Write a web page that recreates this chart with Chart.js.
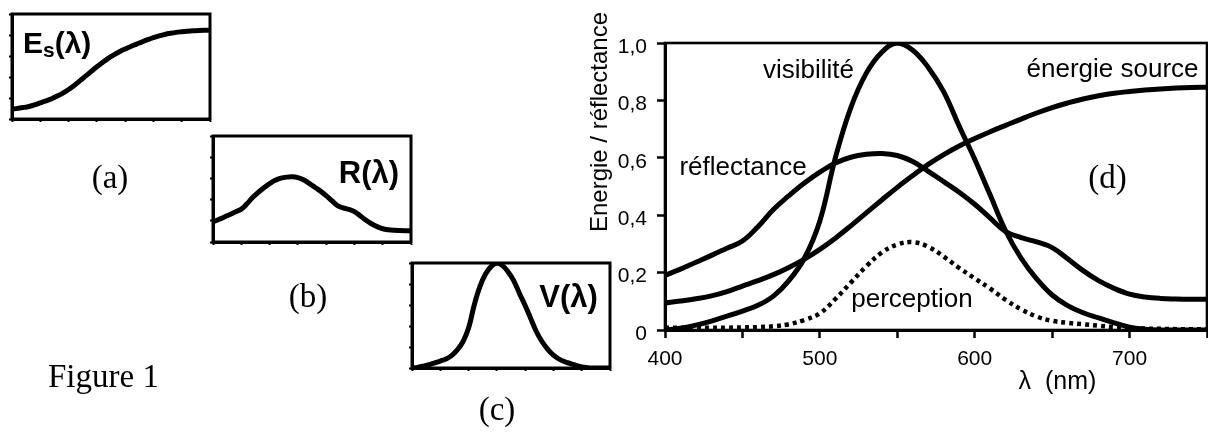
<!DOCTYPE html>
<html><head><meta charset="utf-8">
<script src="https://cdn.jsdelivr.net/npm/chart.js@4.4.1/dist/chart.umd.min.js"></script>
<style>
html,body{margin:0;padding:0;background:#fff;overflow:hidden}
#wrap{position:relative;width:1208px;height:432px}
canvas{position:absolute}
</style></head><body>
<div id="wrap">
<canvas id="main" width="1208" height="432" style="left:0;top:0"></canvas>
<canvas id="ca" width="220" height="130" style="left:0px;top:0px"></canvas>
<canvas id="cb" width="220" height="131" style="left:201px;top:122px"></canvas>
<canvas id="cc" width="220" height="130" style="left:400px;top:249px"></canvas>
</div>
<script>
// ---- data ----
const lambda = [400,410,420,430,440,450,460,470,480,490,500,510,520,530,540,550,560,570,580,590,600,610,620,630,640,650,660,670,680,690,700,710,720,730,740,750];
const energieSource = [0.094,0.101,0.109,0.119,0.134,0.153,0.172,0.193,0.218,0.247,0.281,0.32,0.363,0.408,0.453,0.497,0.538,0.577,0.611,0.641,0.667,0.691,0.713,0.735,0.756,0.775,0.791,0.805,0.816,0.825,0.831,0.836,0.84,0.843,0.845,0.846];
const reflectance = [0.19,0.212,0.236,0.26,0.285,0.31,0.36,0.42,0.468,0.512,0.55,0.582,0.602,0.612,0.615,0.608,0.587,0.553,0.517,0.48,0.438,0.39,0.343,0.322,0.307,0.287,0.248,0.207,0.172,0.145,0.125,0.115,0.11,0.108,0.107,0.107];
const visibilite = [0.0,0.006,0.017,0.031,0.048,0.066,0.086,0.118,0.172,0.25,0.38,0.6,0.775,0.895,0.968,1.0,0.975,0.915,0.83,0.71,0.595,0.47,0.345,0.25,0.178,0.122,0.085,0.06,0.042,0.025,0.01,0.003,0.0,0.0,0.0,0.0];
const perception = [0.008,0.008,0.008,0.008,0.008,0.009,0.01,0.013,0.02,0.035,0.058,0.108,0.165,0.222,0.27,0.298,0.306,0.29,0.256,0.216,0.18,0.144,0.105,0.072,0.047,0.032,0.025,0.02,0.015,0.01,0.007,0.005,0.004,0.003,0.003,0.003];
const seriesNames = ['énergie source','réflectance','visibilité','perception'];
const yTickLabels = ['0','0,2','0,4','0,6','0,8','1,0'];
const xTickLabels = ['400','500','600','700'];

const SANS = '"Liberation Sans", Arial, sans-serif';
const SERIF = '"Liberation Serif", "Times New Roman", serif';

const pts = arr => lambda.map((x,i)=>({x:x, y:arr[i]}));

const framePlugin = {
  id:'frame',
  afterDraw(chart, args, opts){
    const {ctx, chartArea:a} = chart;
    ctx.save(); ctx.strokeStyle='#000'; ctx.lineWidth=opts.width||3;
    ctx.strokeRect(a.left, a.top, a.right-a.left, a.bottom-a.top);
    ctx.restore();
  }
};
const textPlugin = {
  id:'texts',
  afterDraw(chart, args, opts){
    const ctx = chart.ctx;
    (opts.items||[]).forEach(t=>{
      ctx.save();
      ctx.fillStyle='#000'; ctx.textBaseline='alphabetic';
      ctx.translate(t.x,t.y);
      if(t.rot) ctx.rotate(t.rot);
      if(t.parts){
        let x=0;
        t.parts.forEach(p=>{ ctx.font=p.font; ctx.textAlign='left'; ctx.fillText(p.text,x,p.dy||0); x+=ctx.measureText(p.text).width; });
      } else {
        ctx.font=t.font; ctx.textAlign=t.align||'left';
        ctx.fillText(t.text,0,0);
      }
      ctx.restore();
    });
  }
};

const line = (label, arr, extra) => Object.assign({
  label, data: pts(arr), borderColor:'#000', borderWidth:5, pointRadius:0,
  fill:false, tension:0.4
}, extra||{});

new Chart(document.getElementById('main'), {
  type:'line',
  data:{ datasets:[
    line(seriesNames[0], energieSource),
    line(seriesNames[1], reflectance),
    line(seriesNames[2], visibilite),
    line(seriesNames[3], perception, {borderWidth:4.5, borderDash:[4,4], borderCapStyle:'butt'})
  ]},
  options:{
    responsive:false, animation:false, devicePixelRatio:1,
    layout:{padding:{left:560, top:43, right:1, bottom:0}},
    plugins:{
      legend:{display:false}, tooltip:{enabled:false},
      frame:{width:2.6},
      texts:{items:[
        {text:'visibilité', x:808.5, y:78, font:'26px '+SANS, align:'center'},
        {text:'réflectance', x:743, y:175, font:'26px '+SANS, align:'center'},
        {text:'énergie source', x:1112.5, y:77, font:'26px '+SANS, align:'center'},
        {text:'perception', x:912, y:307, font:'26px '+SANS, align:'center'},
        {text:'(d)', x:1107.5, y:188, font:'33px '+SERIF, align:'center'},
        {text:'Energie / réflectance', x:607, y:122, font:'24px '+SANS, align:'center', rot:-Math.PI/2},
        {text:'λ  (nm)', x:1057.5, y:389, font:'25px '+SANS, align:'center'},
        {text:'(a)', x:110, y:188, font:'33px '+SERIF, align:'center'},
        {text:'(b)', x:308, y:307, font:'33px '+SERIF, align:'center'},
        {text:'(c)', x:497, y:420, font:'33px '+SERIF, align:'center'},
        {text:'Figure 1', x:48, y:387, font:'33px '+SERIF, align:'left'},
        {x:23, y:53, parts:[{text:'E', font:'bold 30px '+SANS},{text:'s', font:'bold 21px '+SANS, dy:4},{text:'(λ)', font:'bold 30px '+SANS}]},
        {text:'R(λ)', x:369, y:183, font:'bold 31px '+SANS, align:'center'},
        {text:'V(λ)', x:568.5, y:307, font:'bold 31px '+SANS, align:'center'}
      ]}
    },
    scales:{
      x:{ type:'linear', min:400, max:750,
        afterFit(s){ s.height=102; s.paddingLeft=0; s.paddingRight=0; },
        border:{display:true, color:'#000', width:3},
        grid:{drawOnChartArea:false, drawTicks:true, tickLength:8, tickWidth:2.5, tickColor:'#000', color:'#000'},
        ticks:{stepSize:50, autoSkip:false, maxRotation:0, padding:9, color:'#000', font:{family:SANS, size:21},
          callback:(v)=> xTickLabels.includes(String(v)) ? String(v) : ''}
      },
      y:{ min:0, max:1,
        afterFit(s){ s.width=105; s.paddingTop=0; s.paddingBottom=0; },
        border:{display:true, color:'#000', width:3},
        grid:{drawOnChartArea:false, drawTicks:true, tickLength:8, tickWidth:2.5, tickColor:'#000', color:'#000'},
        ticks:{stepSize:0.2, padding:10, labelOffset:4, color:'#000', font:{family:SANS, size:21},
          callback:(v,i)=> yTickLabels[i]}
      }
    }
  },
  plugins:[framePlugin, textPlugin]
});

function small(id, arr, label){
  new Chart(document.getElementById(id), {
    type:'line',
    data:{datasets:[line(label, arr)]},
    options:{
      responsive:false, animation:false, devicePixelRatio:1,
      layout:{padding:{left:0, top:14, right:10, bottom:0}},
      plugins:{legend:{display:false}, tooltip:{enabled:false}, frame:{width:3}},
      scales:{
        x:{ type:'linear', min:400, max:750, afterFit(s){ s.height=11; s.paddingLeft=0; s.paddingRight=0; },
          border:{display:true, color:'#000', width:3},
          grid:{drawOnChartArea:false, drawTicks:true, tickLength:3, tickWidth:2, tickColor:'#000'},
          ticks:{display:false, stepSize:50, autoSkip:false}
        },
        y:{ min:0, max:1, afterFit(s){ s.width=12; s.paddingTop=0; s.paddingBottom=0; },
          border:{display:true, color:'#000', width:3},
          grid:{drawOnChartArea:false, drawTicks:true, tickLength:3, tickWidth:2, tickColor:'#000'},
          ticks:{display:false, stepSize:0.2}
        }
      }
    },
    plugins:[framePlugin]
  });
}
small('ca', energieSource, seriesNames[0]);
small('cb', reflectance, seriesNames[1]);
small('cc', visibilite, seriesNames[2]);
</script>
</body></html>
